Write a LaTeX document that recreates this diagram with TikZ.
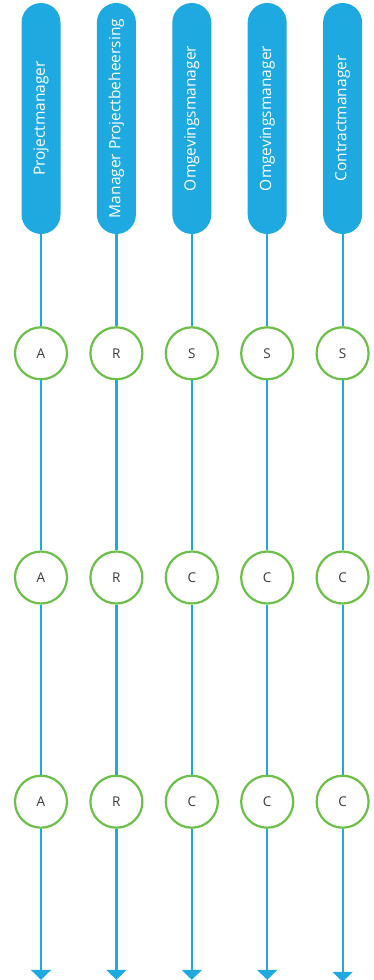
\documentclass[tikz,border=0pt]{standalone}
\usepackage{fontspec}
\setmainfont{Open Sans}
\usetikzlibrary{arrows.meta, positioning}
\definecolor{lane}{HTML}{1FA9E1}
\definecolor{raci}{HTML}{6CBF48}
\definecolor{ink}{HTML}{3A3A3A}

\begin{document}
\begin{tikzpicture}[
  x=1pt, y=1pt,
  node distance=36pt,
  role/.style={rectangle, rounded corners=19.5pt, fill=lane, minimum width=39pt,
               minimum height=231pt, inner sep=0pt},
  roletxt/.style={rotate=90, text=white, font=\fontsize{15.5}{18}\selectfont},
  cell/.style={circle, draw=raci, line width=2.2pt, fill=white, minimum size=52pt,
               inner sep=0pt, text=ink, font=\fontsize{13.5}{16}\selectfont},
  flow/.style={lane, line width=2.2pt},
  arr/.style={flow, -{Triangle[width=20pt, length=10pt]}}
]
\useasboundingbox (0,0) rectangle (374,-980);

% role headers
\node[role] (pm)   at (41,-118.5) {};
\node[role, right=of pm]   (mpb)  {};
\node[role, right=of mpb]  (om1)  {};
\node[role, right=of om1]  (om2)  {};
\node[role, right=of om2]  (cm)   {};
\node[roletxt] at (pm)  {Projectmanager};
\node[roletxt] at (mpb) {Manager Projectbeheersing};
\node[roletxt] at (om1) {Omgevingsmanager};
\node[roletxt] at (om2) {Omgevingsmanager};
\node[roletxt] at (cm)  {Contractmanager};

% first row
\node[cell, below=92pt of pm]  (pm1)  {A};
\node[cell, below=92pt of mpb] (mpb1) {R};
\node[cell, below=92pt of om1] (om11) {S};
\node[cell, below=92pt of om2] (om21) {S};
\node[cell, below=92pt of cm]  (cm1)  {S};

% second row
\node[cell, below=170pt of pm1]  (pm2)  {A};
\node[cell, below=170pt of mpb1] (mpb2) {R};
\node[cell, below=170pt of om11] (om12) {C};
\node[cell, below=170pt of om21] (om22) {C};
\node[cell, below=170pt of cm1]  (cm2)  {C};

% third row
\node[cell, below=170pt of pm2]  (pm3)  {A};
\node[cell, below=170pt of mpb2] (mpb3) {R};
\node[cell, below=170pt of om12] (om13) {C};
\node[cell, below=170pt of om22] (om23) {C};
\node[cell, below=170pt of cm2]  (cm3)  {C};

% lane ends
\coordinate[below=151pt of pm3]  (pmE);
\coordinate[below=151pt of mpb3] (mpbE);
\coordinate[below=151pt of om13] (om1E);
\coordinate[below=151pt of om23] (om2E);
\coordinate[below=153pt of cm3]  (cmE);

\draw[flow] (pm)  -- (pm1)  -- (pm2)  -- (pm3);
\draw[flow] (mpb) -- (mpb1) -- (mpb2) -- (mpb3);
\draw[flow] (om1) -- (om11) -- (om12) -- (om13);
\draw[flow] (om2) -- (om21) -- (om22) -- (om23);
\draw[flow] (cm)  -- (cm1)  -- (cm2)  -- (cm3);
\draw[arr] (pm3)  -- (pmE);
\draw[arr] (mpb3) -- (mpbE);
\draw[arr] (om13) -- (om1E);
\draw[arr] (om23) -- (om2E);
\draw[arr] (cm3)  -- (cmE);
\end{tikzpicture}
\end{document}
